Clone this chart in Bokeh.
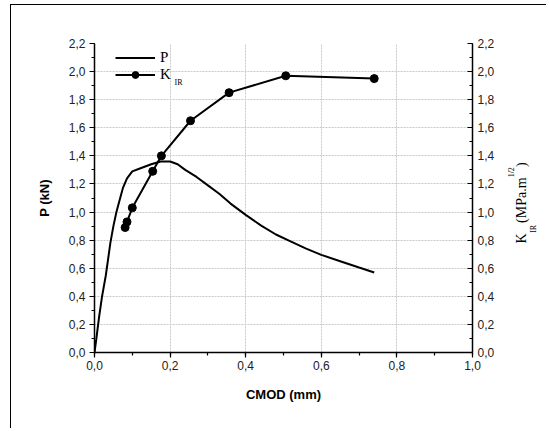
import math, json
from bokeh.plotting import figure
from bokeh.models import (Range1d, LinearAxis, SingleIntervalTicker, CustomJSTickFormatter,
                          Legend, LegendItem, Label, Grid, FixedTicker)
from bokeh.embed import file_html
from bokeh.resources import INLINE

# ---- data ----
cmod_p = [0, 0.005, 0.012, 0.02, 0.03, 0.042, 0.05, 0.058, 0.066, 0.075, 0.086, 0.1, 0.12,
          0.15, 0.175, 0.2, 0.22, 0.24, 0.27, 0.3, 0.33, 0.36, 0.4, 0.44, 0.48, 0.52, 0.56,
          0.6, 0.65, 0.7, 0.74]
load_p = [0, 0.1, 0.25, 0.4, 0.55, 0.78, 0.9, 1.0, 1.08, 1.17, 1.24, 1.29, 1.31,
          1.34, 1.36, 1.36, 1.34, 1.3, 1.25, 1.19, 1.13, 1.06, 0.98, 0.905, 0.84, 0.79, 0.74,
          0.695, 0.65, 0.605, 0.57]
cmod_k = [0.081, 0.086, 0.100, 0.154, 0.177, 0.254, 0.356, 0.506, 0.740]
kir = [0.89, 0.93, 1.03, 1.29, 1.40, 1.65, 1.85, 1.97, 1.95]

x_label = "CMOD (mm)"
y_label = "P (kN)"
NB = "\u00a0"

W, H = 536, 424
p = figure(width=W, height=H, output_backend="svg", toolbar_location=None,
           x_range=Range1d(0, 1.0), y_range=Range1d(0, 2.2),
           min_border_left=83, min_border_right=75, min_border_top=38, min_border_bottom=77,
           x_axis_location=None, y_axis_location=None)
p.extra_y_ranges = {"k": Range1d(0, 2.2)}
p.outline_line_color = None
p.background_fill_color = "white"
p.border_fill_color = "white"
p.styles = {"margin-left": "10px", "margin-top": "4px",
            "border-left": "1px solid black", "border-top": "1px solid black"}

fmt = CustomJSTickFormatter(code="return tick.toFixed(1).replace('.', ',');")

def style_axis(ax):
    ax.axis_line_color = "black"
    ax.axis_line_width = 1.5
    ax.major_tick_line_color = "black"
    ax.minor_tick_line_color = "black"
    ax.major_tick_line_width = 1.2
    ax.minor_tick_line_width = 1.2
    ax.major_label_text_font = "Liberation Sans"
    ax.major_label_text_font_size = "12px"
    ax.major_label_text_color = "#222222"
    ax.axis_label_text_font = "Liberation Sans"
    ax.axis_label_text_font_style = "bold"
    ax.axis_label_text_font_size = "13px"
    ax.axis_label_text_color = "black"
    ax.formatter = fmt

xt = SingleIntervalTicker(interval=0.2, num_minor_ticks=2)
yt = SingleIntervalTicker(interval=0.2, num_minor_ticks=2)

xax = LinearAxis(ticker=xt, axis_label=x_label)
style_axis(xax)
xax.major_tick_out = 5; xax.major_tick_in = 0
xax.minor_tick_out = 3; xax.minor_tick_in = 0
xax.major_label_standoff = 3
xax.axis_label_standoff = 14
p.add_layout(xax, "below")

yax = LinearAxis(ticker=yt, axis_label=y_label)
style_axis(yax)
yax.major_tick_out = 5; yax.major_tick_in = 0
yax.minor_tick_out = 3; yax.minor_tick_in = 0
yax.major_label_standoff = 4
yax.axis_label_standoff = 14
p.add_layout(yax, "left")

rax = LinearAxis(ticker=SingleIntervalTicker(interval=0.2, num_minor_ticks=2), y_range_name="k")
style_axis(rax)
rax.major_tick_out = 0; rax.major_tick_in = 5
rax.minor_tick_out = 0; rax.minor_tick_in = 3
rax.major_label_standoff = 5
p.add_layout(rax, "right")

# right axis title K_IR (MPa.m^1/2): pieces drawn as single tick labels of
# label-only axes, rotated to read bottom-to-top
def label_axis(text, size, standoff, at):
    a = LinearAxis(ticker=FixedTicker(ticks=[at], minor_ticks=[]), y_range_name="k",
                   formatter=CustomJSTickFormatter(code="return " + json.dumps(text) + ";"),
                   major_label_orientation=math.pi / 2, major_label_standoff=standoff)
    a.axis_line_color = None
    a.major_tick_line_color = None
    a.minor_tick_line_color = None
    a.major_tick_in = 0; a.major_tick_out = 0
    a.minor_tick_in = 0; a.minor_tick_out = 0
    a.major_label_text_font = "Liberation Serif"
    a.major_label_text_font_size = size
    a.major_label_text_color = "black"
    return a

main_txt = "K" + NB * 3 + "(MPa.m" + NB * 3 + ")"
p.add_layout(label_axis("1/2", "8px", 14, 1.247), "right")
p.add_layout(label_axis(main_txt, "14px", -2, 0.776), "right")
p.add_layout(label_axis("IR", "8px", -6, 0.852), "right")

p.xgrid.visible = False
p.ygrid.visible = False
gx = Grid(dimension=0, ticker=xt, grid_line_color="#c8c8c8", grid_line_dash="2 1", grid_line_width=1)
gy = Grid(dimension=1, ticker=yt, grid_line_color="#c8c8c8", grid_line_dash="2 1", grid_line_width=1)
p.add_layout(gx, "center")
p.add_layout(gy, "center")

rp = p.line(cmod_p, load_p, line_color="black", line_width=2)
rk_line = p.line(cmod_k, kir, line_color="black", line_width=2, y_range_name="k")
rk_pts = p.scatter(cmod_k, kir, size=8, fill_color="black", line_color="black", y_range_name="k")

legend = Legend(items=[LegendItem(label="P", renderers=[rp]),
                       LegendItem(label="K", renderers=[rk_line, rk_pts])],
                location=(21, 269), orientation="vertical")
legend.border_line_color = None
legend.background_fill_alpha = 0
legend.padding = 2
legend.margin = 0
legend.spacing = 0
legend.glyph_width = 40
legend.glyph_height = 17
legend.label_height = 17
legend.label_standoff = 5
legend.label_text_font = "Liberation Serif"
legend.label_text_font_size = "15px"
legend.label_text_color = "black"
p.add_layout(legend, "center")

# subscript of legend label (canvas px)
p.add_layout(Label(x=162, y=76, x_units="canvas", y_units="canvas", text="IR",
                   text_font="Liberation Serif", text_font_size="8px",
                   text_baseline="middle", text_color="black"))

open("out.html", "w").write(file_html(p, INLINE))
